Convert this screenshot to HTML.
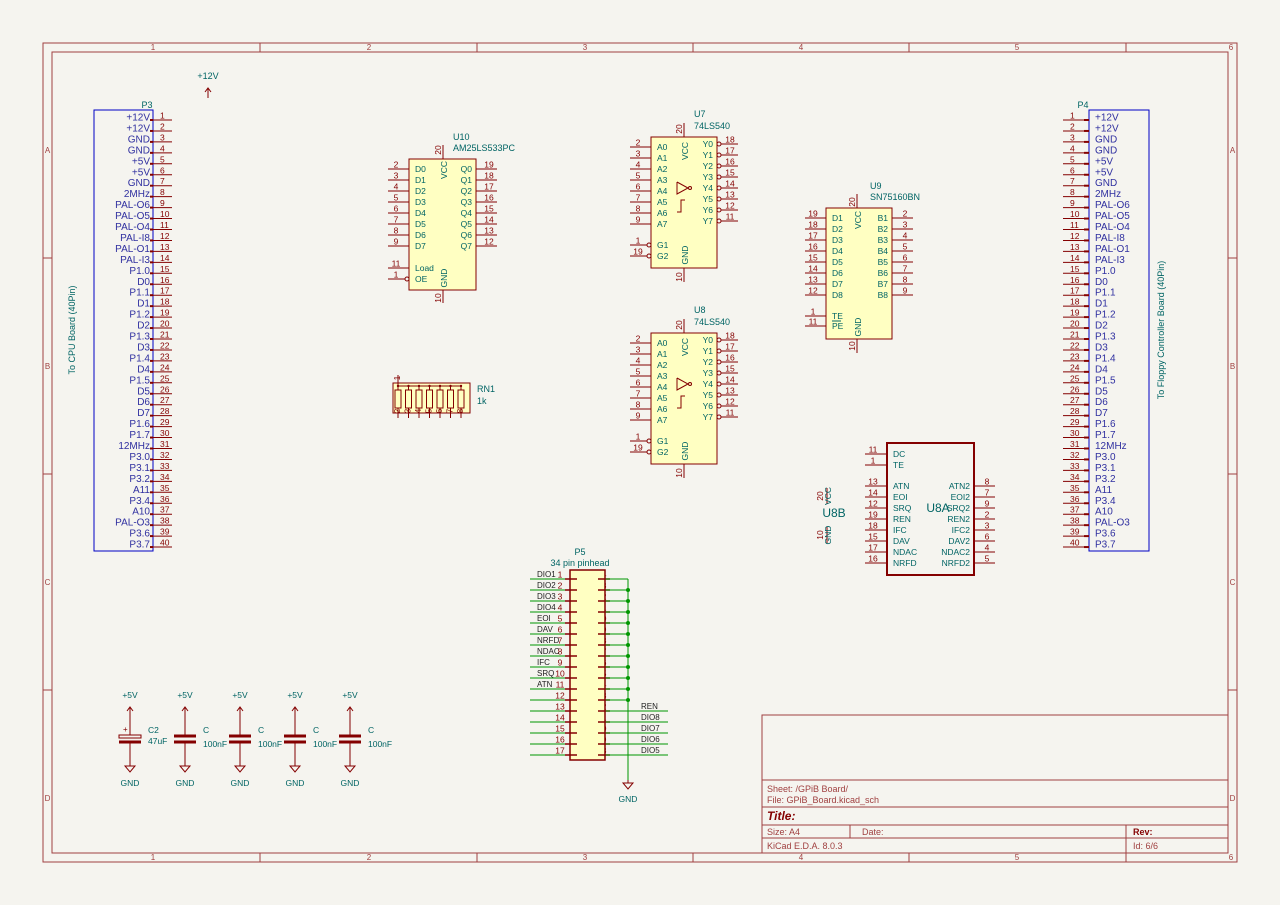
<!DOCTYPE html>
<html><head><meta charset="utf-8"><style>
html,body{margin:0;padding:0;background:#f5f4ef}
svg{display:block}
text{font-family:"Liberation Sans",sans-serif}
</style></head><body>
<svg id="s" xmlns="http://www.w3.org/2000/svg" width="1280" height="905" viewBox="0 0 1280 905">
<rect width="1280" height="905" fill="#f5f4ef"/>
</svg>
<script>
const S=document.getElementById('s');const NS='http://www.w3.org/2000/svg';
const R='#840000',T='#006464',G='#009600',B='#0000c4',Y='#ffffc2';
function el(n,a,t){const e=document.createElementNS(NS,n);for(const k in a)e.setAttribute(k,a[k]);if(t!=null)e.textContent=t;S.appendChild(e);return e;}
function L(x1,y1,x2,y2,c,w){el('line',{x1,y1,x2,y2,stroke:c||R,'stroke-width':w||1});}
function Rc(x,y,w,h,c,f,sw){el('rect',{x,y,width:w,height:h,stroke:c||R,fill:f||'none','stroke-width':sw||1});}
function Tx(x,y,s,c,sz,anc,extra){const a={x,y,fill:c||T,'font-size':sz||9,'text-anchor':anc||'start'};Object.assign(a,extra||{});el('text',a,s);}
function Cc(x,y,r,c){el('circle',{cx:x,cy:y,r,fill:'none',stroke:c||R,'stroke-width':1});}
function Dot(x,y){el('circle',{cx:x,cy:y,r:2,fill:G});}
// borders
Rc(43,43,1194,819,'#a04040');Rc(52,52,1176,801,'#a04040');
const cx=[43,260,477,693,909,1126,1237];
for(let i=1;i<6;i++){L(cx[i],43,cx[i],52,'#a04040');L(cx[i],853,cx[i],862,'#a04040');}
const nx=[153,369,585,801,1017,1231];
nx.forEach((x,i)=>{Tx(x,50,String(i+1),'#a04040',8,'middle');Tx(x,860,String(i+1),'#a04040',8,'middle');});
const ry=[43,258,474,690,862];
for(let i=1;i<4;i++){L(43,ry[i],52,ry[i],'#a04040');L(1228,ry[i],1237,ry[i],'#a04040');}
['A','B','C','D'].forEach((c,i)=>{const y=[150,366,582,798][i]+3;Tx(47.5,y,c,'#a04040',8,'middle');Tx(1232.5,y,c,'#a04040',8,'middle');});
// title block
Rc(762,715,466,138,'#a04040');
[780,807,825,838].forEach(y=>L(762,y,1228,y,'#a04040'));
L(850,825,850,838,'#a04040');L(1126,825,1126,853,'#a04040');
Tx(767,792,'Sheet: /GPiB Board/','#a04040',9);
Tx(767,803,'File: GPiB_Board.kicad_sch','#a04040',9);
Tx(767,820,'Title:','#840000',12,'start',{'font-weight':'bold','font-style':'italic'});
Tx(767,835,'Size: A4','#a04040',9);Tx(862,835,'Date:','#a04040',9);
Tx(767,849,'KiCad E.D.A. 8.0.3','#a04040',9);
Tx(1133,835,'Rev:','#840000',9,'start',{'font-weight':'bold'});Tx(1133,849,'Id: 6/6','#a04040',9);
// P3 / P4
const lab=['+12V','+12V','GND','GND','+5V','+5V','GND','2MHz','PAL-O6','PAL-O5','PAL-O4','PAL-I8','PAL-O1','PAL-I3','P1.0','D0','P1.1','D1','P1.2','D2','P1.3','D3','P1.4','D4','P1.5','D5','D6','D7','P1.6','P1.7','12MHz','P3.0','P3.1','P3.2','A11','P3.4','A10','PAL-O3','P3.6','P3.7'];
Rc(94,110,59,441,B);Tx(147,108,'P3',T,9,'middle');
Rc(1089,110,60,441,B);Tx(1083,108,'P4',T,9,'middle');
lab.forEach((s,i)=>{const y=117+i*10.95;
 L(153,y+3,172,y+3);L(150,y+3,153,y+3,R,2);Tx(160,y+1.5,String(i+1),R,8.5);Tx(150,y+3.5,s,'#3030a0',10,'end');
 L(1063,y+3,1089,y+3);L(1084,y+3,1089,y+3,R,2);Tx(1070,y+1.5,String(i+1),R,8.5);Tx(1095,y+3.5,s,'#3030a0',10,'start');});
Tx(0,0,'To CPU Board (40Pin)',T,9,'middle',{transform:'translate(75,330) rotate(-90)'});
Tx(0,0,'To Floppy Controller Board (40Pin)',T,9,'middle',{transform:'translate(1164,330) rotate(-90)'});
// +12V
Tx(208,79,'+12V',T,9,'middle');L(208,88,208,98);el('polyline',{points:'205,92 208,88 211,92',fill:'none',stroke:R});
// generic IC helpers
function lpin(x0,x1,y,num,name,bub){L(x0,y,bub?x1-4:x1,y);if(bub)Cc(x1-2,y,2);Tx(x0+8,y-1.5,num,R,8.5,'middle');if(name)Tx(x1+6,y+3,name,T,8.5);}
function rpin(x0,x1,y,num,name,bub){L(bub?x0+4:x0,y,x1,y);if(bub)Cc(x0+2,y,2);Tx(x1-8,y-1.5,num,R,8.5,'middle');if(name)Tx(x0-4,y+3,name,T,8.5,'end');}
function vtext(x,y,s,c,sz){Tx(0,0,s,c||T,sz||8.5,'middle',{transform:`translate(${x},${y}) rotate(-90)`});}
// U10
Rc(409,159,67,131,R,Y);Tx(453,140,'U10',T,9);Tx(453,151,'AM25LS533PC',T,9);
L(443,145,443,159);vtext(441,150,'20',R);vtext(447,170,'VCC');L(443,290,443,303);vtext(441,298,'10',R);vtext(447,278,'GND');
for(let i=0;i<8;i++){const y=169+i*11;lpin(388,409,y,String(2+i),'D'+i);rpin(476,497,y,String(19-i),'Q'+i);}
lpin(388,409,268,'11','Load');lpin(388,409,279,'1','OE',1);
// U7/U8
function u540(dy,name){const y0=137+dy;Rc(651,y0,66,131,R,Y);Tx(694,y0-20,name,T,9);Tx(694,y0-8,'74LS540',T,9);
 L(684,y0-14,684,y0);vtext(682,y0-8,'20',R);vtext(688,y0+14,'VCC');L(684,y0+131,684,y0+145);vtext(682,y0+140,'10',R);vtext(688,y0+118,'GND');
 for(let i=0;i<8;i++){const y=y0+10+i*11;lpin(630,651,y,String(2+i),'A'+i);rpin(717,738,y-3,String(18-i),'Y'+i,1);}
 lpin(630,651,y0+108,'1','G1',1);lpin(630,651,y0+119,'19','G2',1);
 el('polyline',{points:`677,${y0+45} 677,${y0+57} 688,${y0+51} 677,${y0+45}`,fill:'none',stroke:R});Cc(690,y0+51,1.5);
 el('polyline',{points:`677,${y0+75} 681,${y0+75} 681,${y0+63} 685,${y0+63}`,fill:'none',stroke:R});L(681,y0+75,681,y0+75);}
u540(0,'U7');u540(196,'U8');
// U9
Rc(826,208,66,131,R,Y);Tx(870,189,'U9',T,9);Tx(870,200,'SN75160BN',T,9);
L(857,194,857,208);vtext(855,202,'20',R);vtext(861,220,'VCC');L(857,339,857,353);vtext(855,346,'10',R);vtext(861,327,'GND');
for(let i=0;i<8;i++){const y=218+i*11;lpin(805,826,y,String(19-i),'D'+(i+1));rpin(892,913,y,String(2+i),'B'+(i+1));}
lpin(805,826,316,'1','TE');lpin(805,826,326,'11','PE');L(832,321,841,321,T);
// U8A
Rc(887,443,87,132,R,'none',2);Tx(938,512,'U8A',T,12,'middle');
[['11','DC',454],['1','TE',465],['13','ATN',486],['14','EOI',497],['12','SRQ',508],['19','REN',519],['18','IFC',530],['15','DAV',541],['17','NDAC',552],['16','NRFD',563]].forEach(p=>lpin(865,887,p[2],p[0],p[1]));
[['8','ATN2',486],['7','EOI2',497],['9','SRQ2',508],['2','REN2',519],['3','IFC2',530],['6','DAV2',541],['4','NDAC2',552],['5','NRFD2',563]].forEach(p=>rpin(974,995,p[2],p[0],p[1]));
Tx(834,517,'U8B',T,12,'middle');
L(827,488,827,504);vtext(823,496,'20',R);vtext(831,496,'VCC');
L(827,527,827,543);vtext(823,535,'10',R);vtext(831,535,'GND');
// RN1
Rc(393,383,77,30,R,Y);Tx(477,392,'RN1',T,9);Tx(477,404,'1k',T,9);
L(398,375,398,383);vtext(400,378,'1',R,8);
L(398,383,398,386);L(398,386,461,386);
for(let i=0;i<7;i++){const x=398+i*10.5;el('circle',{cx:x,cy:386,r:1.2,fill:R});Rc(x-3,390,6,18,R,'none');L(x,386,x,390);L(x,408,x,418);vtext(x+2,411,String(i+2),R,8);}
// P5
Tx(580,555,'P5',T,9,'middle');Tx(580,566,'34 pin pinhead',T,9,'middle');
const ll=['DIO1','DIO2','DIO3','DIO4','EOI','DAV','NRFD','NDAC','IFC','SRQ','ATN','','','','','',''];
const rl=['REN','DIO8','DIO7','DIO6','DIO5'];
for(let i=0;i<17;i++){const y=576+i*11;
 L(530,y+3,570,y+3,G);L(565,y+3,575,y+3,R,1.5);L(600,y+3,610,y+3,R,1.5);
 Tx(560,y+1.5,String(i+1),R,8.5,'middle');Tx(597,y+1.5,String(34-i),R,8.5,'start');
 if(ll[i])Tx(537,y+1,ll[i],'#222',8);
 if(i<12){L(605,y+3,628,y+3,G);if(i>0)Dot(628,y+3);}
 else {L(605,y+3,668,y+3,G);Tx(641,y+1,rl[i-12],'#222',8);}
}
Rc(570,570,35,190,R,Y,1.5);
for(let i=0;i<17;i++){const y=579+i*11;L(570,y,577,y,R,1.5);L(598,y,605,y,R,1.5);}
L(628,579,628,780,G);L(628,780,628,783);el('polygon',{points:'623,783 633,783 628,789',fill:'none',stroke:R});Tx(628,802,'GND',T,8.5,'middle');
// caps
[130,185,240,295,350].forEach((x,i)=>{
 Tx(x,698,'+5V',T,8.5,'middle');el('polyline',{points:`${x-3},711 ${x},707 ${x+3},711`,fill:'none',stroke:R});L(x,707,x,735);
 if(i==0){Rc(x-11,735,22,3,R,'none');L(x-11,742,x+11,742,R,3);Tx(x-7,732,'+',R,8);}
 else{L(x-11,736,x+11,736,R,3);L(x-11,742,x+11,742,R,3);}
 L(x,742,x,766);el('polygon',{points:`${x-5},766 ${x+5},766 ${x},772`,fill:'none',stroke:R});Tx(x,786,'GND',T,8.5,'middle');
 if(i==0){Tx(x+18,733,'C2',T,8.5);Tx(x+18,744,'47uF',T,8.5);}else{Tx(x+18,733,'C',T,8.5);Tx(x+18,747,'100nF',T,8.5);}
});
</script>
</body></html>
